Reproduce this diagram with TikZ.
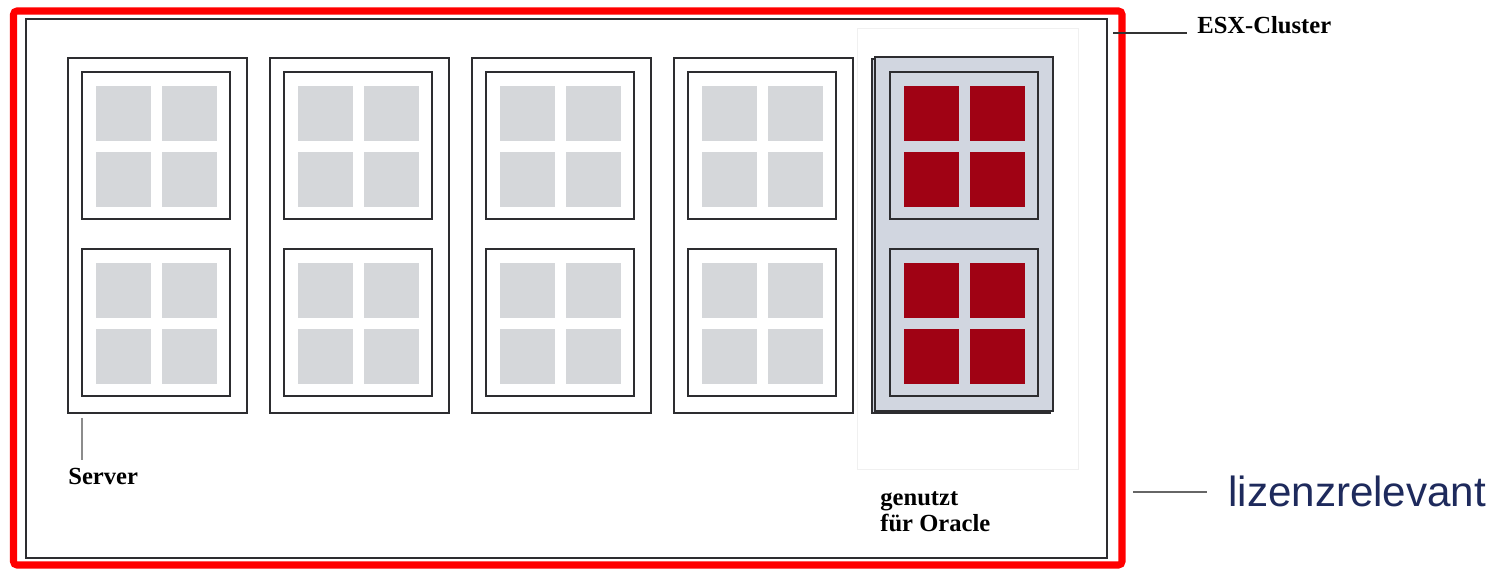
\documentclass[tikz,border=0pt]{standalone}
\usepackage{fontspec}
\setmainfont{Liberation Serif}
\newfontfamily\labelsans{Liberation Sans}
\usepackage{tikz}
\usetikzlibrary{positioning}
\definecolor{licRed}{RGB}{255, 0, 0}
\definecolor{slotGray}{RGB}{213, 215, 218}
\definecolor{oracleRed}{RGB}{160, 2, 20}
\definecolor{oracleBack}{RGB}{209, 214, 224}
\definecolor{frameGray}{RGB}{45, 45, 48}
\definecolor{navyText}{RGB}{30, 42, 92}

\begin{document}
\begin{tikzpicture}[x=0.02cm, y=-0.02cm,
  frame/.style={draw=frameGray, line width=1.1pt},
  slot/.style={fill=slotGray},
  oslot/.style={fill=oracleRed},
  leader/.style={draw=black!80, line width=0.9pt},
  lab/.style={font=\fontsize{14}{15.3}\selectfont\bfseries, inner sep=0pt, align=left},
]
  \fill[white] (0,0) rectangle (1505,570);
  \useasboundingbox (0,0) rectangle (1505,570);

  % licence frame and cluster
  \draw[licRed, line width=4pt, rounded corners=2pt] (13.5,11) rectangle (1122,565);
  \draw[frameGray, line width=0.9pt] (26,19) rectangle (1107,558);
  \draw[black!6, line width=0.4pt] (857,28) rectangle (1078,469);

  % servers
  \foreach \i in {0,...,3} {
    \pgfmathsetmacro{\sx}{68+202*\i}
    \draw[frame] (\sx,58) rectangle ++(179,355);
    \foreach \dy in {0,177} {
      \draw[frame] (\sx+14,72+\dy) rectangle ++(148,147);
      \foreach \a in {0,66} \foreach \b in {0,66}
        \fill[slot] (\sx+28+\a,86+\dy+\b) rectangle ++(55,55);
    }
  }

  % oracle server
  \draw[frame, fill=oracleBack] (872,59) rectangle (1050,413);
  \draw[frame, fill=oracleBack] (875,57) rectangle (1053,411);
  \foreach \dy in {0,177} {
    \draw[frame] (890,72+\dy) rectangle ++(148,147);
    \foreach \a in {0,66} \foreach \b in {0,66}
      \fill[oslot] (904+\a,86+\dy+\b) rectangle ++(55,55);
  }

  % labels
  \node[lab, anchor=base west] (esx) at (1197,34) {ESX-Cluster};
  \coordinate (esxend) at (1113,33);
  \draw[leader] (esxend) -- (esxend -| esx.west) [shorten >=0.2cm];

  \node[lab, anchor=base west] (srv) at (68,485) {Server};
  \coordinate (srvtop) at (82,418);
  \draw[leader, draw=black!45, line width=0.6pt, shorten >=0.16cm] (srvtop) -- (srvtop |- srv.north);

  \node[lab, anchor=base west] (ora) at (880,532) {genutzt\\für Oracle};

  \node[font=\labelsans\fontsize{24}{28}\selectfont, text=navyText,
        anchor=base west, inner sep=0pt] (lic) at (1228,507) {lizenzrelevant};
  \coordinate (licstart) at (1133,492);
  \draw[leader, draw=black!60, line width=1.3pt, shorten >=0.42cm] (licstart) -- (licstart -| lic.west);
\end{tikzpicture}
\end{document}
